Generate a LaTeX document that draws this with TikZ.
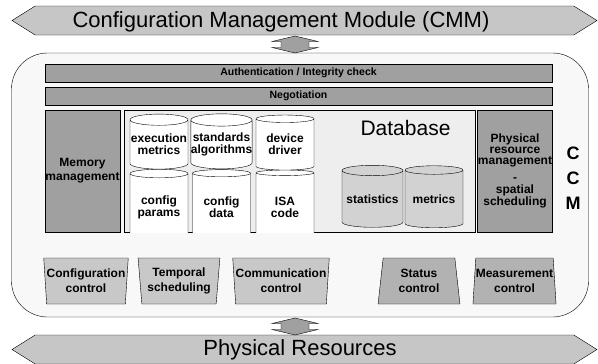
\documentclass[tikz,border=0pt]{standalone}
\usepackage{fontspec}
\setmainfont{Liberation Sans}
\usetikzlibrary{shapes.geometric,shapes.symbols,positioning,calc}
\definecolor{bannergray}{RGB}{198,198,198}
\definecolor{blockgray}{RGB}{160,160,160}
\definecolor{panelgray}{RGB}{248,248,248}
\definecolor{dbgray}{RGB}{238,238,238}
\definecolor{storegray}{RGB}{210,210,210}
\definecolor{ctrlgray}{RGB}{200,200,200}
\definecolor{ctrldark}{RGB}{178,178,178}

\begin{document}
\begin{tikzpicture}[
    x=1pt, y=-1pt,
    banner/.style={draw, signal, signal to=west and east, signal pointer angle=64, fill=bannergray, minimum width=585pt, minimum height=29pt, inner sep=0pt},
    link/.style={draw, fill=blockgray},
    bar/.style={draw, fill=blockgray, minimum width=507pt, minimum height=18pt, inner sep=0pt, font=\bfseries\fontsize{10.5}{12}\selectfont},
    unit/.style={draw, fill=blockgray, minimum width=75pt, minimum height=122pt, inner sep=0pt, align=center, font=\bfseries\fontsize{12}{14}\selectfont},
    store/.style={draw, cylinder, shape border rotate=90, aspect=0.2, fill=white, minimum width=58pt, inner sep=0pt, align=center, font=\bfseries\fontsize{12}{12}\selectfont},
    ctrl/.style={draw, trapezium, trapezium stretches=true, minimum width=82pt, minimum height=46pt, inner sep=0pt, align=center, font=\bfseries\fontsize{12}{15}\selectfont},
    ctrlup/.style={ctrl, fill=ctrlgray, trapezium left angle=97, trapezium right angle=97},
    ctrldown/.style={ctrl, fill=ctrldark, trapezium left angle=83, trapezium right angle=83}
]
    \useasboundingbox (0,0) rectangle (598,364);

    % management module and physical layer
    \node[banner] (cmm) at (304.5,20.5) {};
    \node[font=\fontsize{22}{24}\selectfont] (cmmtext) at (281,22) {Configuration Management Module (CMM)};
    \node[banner] (phys) at (304.5,349.5) {};
    \node[font=\fontsize{22}{24}\selectfont] (phystext) at (300,350) {Physical Resources};

    % the CCM panel
    \node[draw, fill=panelgray, rounded corners=36pt, minimum width=577pt, minimum height=264pt] (ccm) at (300,185) {};

    % block arrows between the layers
    \coordinate (uplink) at (295,44.5);
    \coordinate (downlink) at (295,326.5);
    \foreach \c in {uplink,downlink}
        \draw[link] (\c) +(0,-8.5) -- +(23,-3) -- +(14,-3) -- +(14,3) -- +(23,3) -- +(0,8.5)
            -- +(-23,3) -- +(-14,3) -- +(-14,-3) -- +(-23,-3) -- cycle;

    \node[bar] (auth) at (298.5,73) {Authentication / Integrity check};
    \node[bar] (nego) at (298.5,96) {Negotiation};

    \node[unit] (mem) at (82.5,171) {Memory\\management};
    \node[unit, fill=dbgray, minimum width=351pt] (db) at (299.5,171) {};
    \node[unit, font=\bfseries\fontsize{12}{11}\selectfont] (prm) at (515,171) {Physical\\resource\\management\\[6pt]-\\[1pt]spatial\\scheduling};
    \node[font=\bfseries\fontsize{18}{25}\selectfont, align=center] (ccmlabel) at (573,178) {C\\C\\M};

    % stores inside the database
    \begin{scope}
        \clip (db.north west) rectangle (db.south east);
        \node[store, minimum height=72pt] (params) at (159,207.5) {config\\params};
        \node[store, minimum height=72pt] (cdata) at (221.5,207.5) {config\\data};
        \node[store, minimum height=72pt] (isa) at (285,207.5) {ISA\\code};
    \end{scope}
    \node[store, minimum height=55pt] (exec) at (159,144.5) {execution\\metrics};
    \node[store, minimum height=55pt] (std) at (221.5,144.5) {standards\\algorithms};
    \node[store, minimum height=55pt] (drv) at (285,144.5) {device\\driver};
    \node[store, fill=storegray, minimum width=61pt, minimum height=62pt] (stats) at (372.5,199) {statistics};
    \node[store, fill=storegray, minimum height=62pt] (metr) at (434,199) {metrics};
    \node[font=\fontsize{21}{24}\selectfont] (dblabel) at (405.5,127.5) {Database};

    % control units
    \node[ctrlup] (cfgctl) at (86,281) {Configuration\\control};
    \node[ctrlup] (tmpsch) at (179,281) {Temporal\\scheduling};
    \node[ctrlup] (comctl) at (281,281) {Communication\\control};
    \node[ctrldown] (stactl) at (419,281) {Status\\control};
    \node[ctrldown] (meactl) at (514.5,281) {Measurement\\control};
\end{tikzpicture}
\end{document}
